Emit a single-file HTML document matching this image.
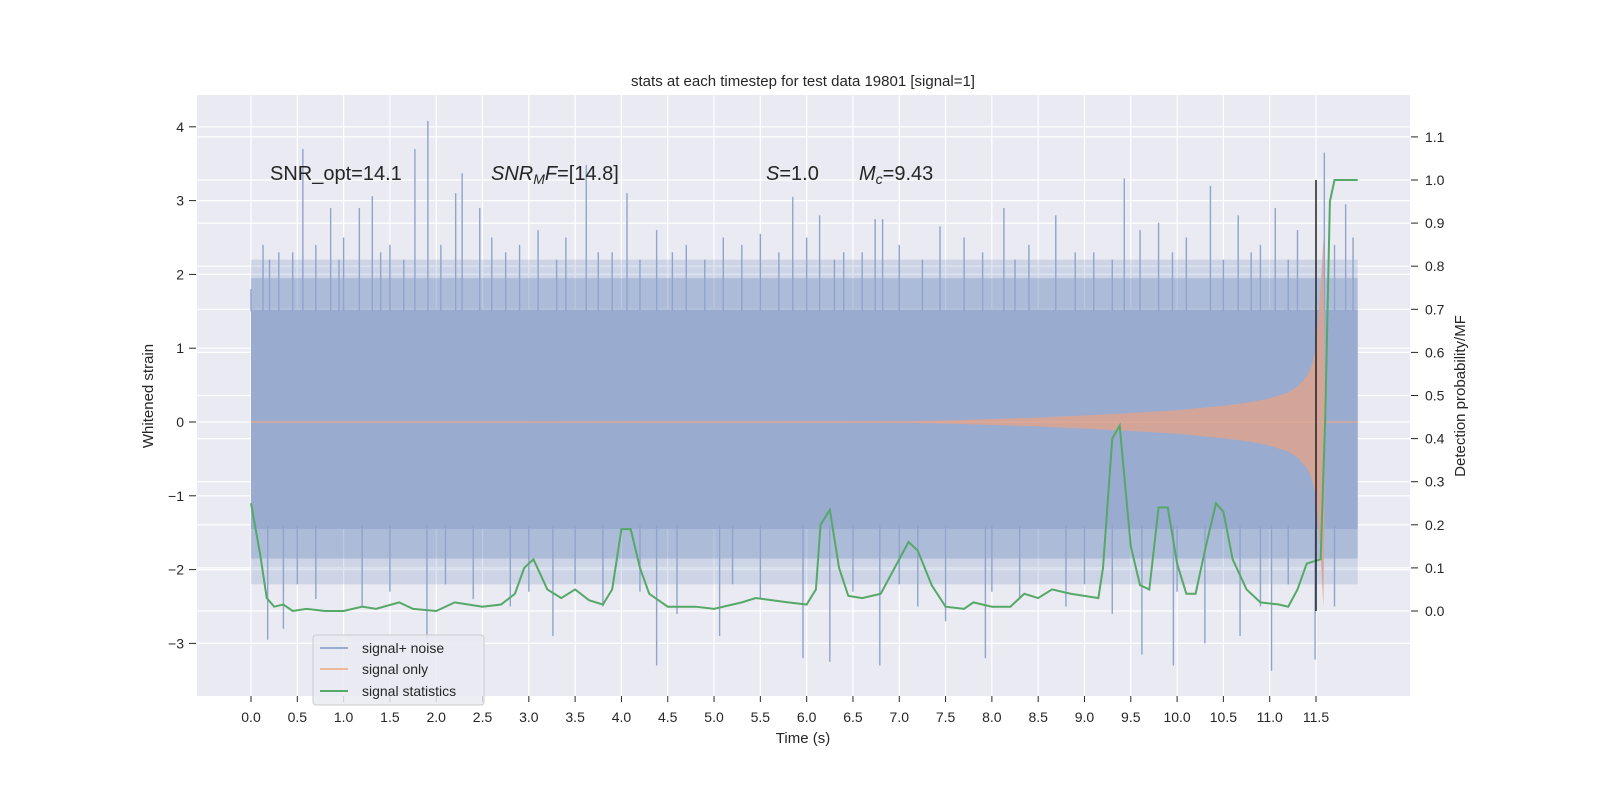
<!DOCTYPE html>
<html><head><meta charset="utf-8">
<style>
html,body{margin:0;padding:0;background:#fff;}
svg{display:block;font-family:"Liberation Sans","DejaVu Sans",sans-serif;}
</style></head>
<body>
<svg id="chart" width="1600" height="800" xmlns="http://www.w3.org/2000/svg">
<rect x="0" y="0" width="1600" height="800" fill="#ffffff"/>
<rect x="197" y="95" width="1213" height="601" fill="#eaeaf2"/>
<g id="grid"></g>
<g id="noise"></g>
<g id="signal"></g>
<g id="stats"></g>
<g id="axes"></g>
<text x="803" y="86" font-size="15" text-anchor="middle" fill="#262626">stats at each timestep for test data 19801 [signal=1]</text>
<text x="803" y="743" font-size="15" text-anchor="middle" fill="#262626">Time (s)</text>
<text transform="translate(153,396) rotate(-90)" font-size="15" text-anchor="middle" fill="#262626">Whitened strain</text>
<text transform="translate(1465,396) rotate(-90)" font-size="15" text-anchor="middle" fill="#262626">Detection probability/MF</text>
<text x="270" y="180" font-size="20" fill="#262626">SNR_opt=14.1</text>
<text x="491" y="180" font-size="20" fill="#262626"><tspan font-style="italic">SNR</tspan><tspan font-style="italic" font-size="14" dy="4">M</tspan><tspan font-style="italic" dy="-4">F</tspan>=[14.8]</text>
<text x="766" y="180" font-size="20" fill="#262626"><tspan font-style="italic">S</tspan>=1.0</text>
<text x="859" y="180" font-size="20" fill="#262626"><tspan font-style="italic">M</tspan><tspan font-style="italic" font-size="14" dy="4">c</tspan><tspan dy="-4">=9.43</tspan></text>
<g>
<rect x="313" y="635" width="171" height="70" rx="3" fill="#eaeaf2" fill-opacity="0.85" stroke="#cccccc"/>
<line x1="320" y1="648" x2="348" y2="648" stroke="#9aabd0" stroke-width="2"/>
<text x="362" y="653" font-size="14" fill="#262626">signal+ noise</text>
<line x1="320" y1="669" x2="348" y2="669" stroke="#eab89f" stroke-width="2"/>
<text x="362" y="674" font-size="14" fill="#262626">signal only</text>
<line x1="320" y1="691" x2="348" y2="691" stroke="#55a868" stroke-width="2"/>
<text x="362" y="696" font-size="14" fill="#262626">signal statistics</text>
</g>
</svg>
<script>
const upTimes=[0.0,0.13,0.56,0.86,1.17,1.31,1.77,1.91,2.21,2.28,2.47,3.62,4.06,4.38,5.5,5.85,6.14,6.74,6.82,7.44,8.13,8.69,9.43,9.8,10.36,10.66,11.06,11.59,11.82,0.3,0.7,1.0,1.5,2.6,2.9,3.1,3.4,3.9,4.7,5.1,5.3,6.0,6.4,7.0,7.7,8.4,9.1,9.6,10.1,10.9,11.3,11.9,0.2,0.45,0.95,1.4,1.65,2.05,2.75,3.3,3.75,4.2,4.55,4.9,5.7,6.3,6.6,7.25,7.9,8.25,8.9,9.3,9.95,10.5,10.8,11.2,11.7];
const upVals=[1.8,2.4,3.7,2.9,2.9,3.06,3.7,4.08,3.1,3.37,2.9,3.48,3.1,2.6,2.55,3.05,2.8,2.75,2.75,2.65,2.9,2.8,3.3,2.7,3.2,2.8,2.9,3.65,2.95,2.3,2.4,2.5,2.4,2.5,2.4,2.6,2.5,2.3,2.4,2.5,2.4,2.5,2.3,2.4,2.5,2.4,2.3,2.6,2.5,2.4,2.6,2.5,2.2,2.3,2.2,2.3,2.2,2.4,2.3,2.2,2.3,2.2,2.3,2.2,2.3,2.2,2.3,2.2,2.3,2.2,2.3,2.2,2.3,2.2,2.3,2.2,2.4];
const lowTimes=[0.18,0.35,1.9,3.26,4.38,5.06,5.96,6.25,6.79,7.5,7.93,9.62,9.96,10.3,10.68,11.02,11.49,0.7,1.2,2.4,2.8,3.8,4.6,5.5,7.2,8.3,8.8,9.3,10.9,11.7,0.5,1.5,2.1,3.0,3.5,4.2,5.2,6.5,7.0,8.0,9.0,10.0,11.2];
const lowVals=[-2.95,-2.8,-2.95,-2.9,-3.3,-2.9,-3.2,-3.25,-3.3,-2.7,-3.2,-3.15,-3.3,-3.0,-2.9,-3.37,-3.22,-2.4,-2.5,-2.4,-2.5,-2.5,-2.6,-2.4,-2.5,-2.4,-2.5,-2.6,-2.5,-2.5,-2.2,-2.3,-2.2,-2.3,-2.2,-2.3,-2.2,-2.3,-2.2,-2.3,-2.2,-2.3,-2.2];
const sigTimes=[0,7.0,7.5,8.0,8.5,9.0,9.5,10.0,10.5,10.8,11.0,11.2,11.3,11.4,11.45,11.5,11.55,11.58,11.6];
const sigAmp=[0.005,0.01,0.02,0.04,0.06,0.09,0.12,0.16,0.22,0.27,0.32,0.4,0.48,0.62,0.75,1.0,1.8,2.5,0.05];
const statTimes=[0,0.1,0.17,0.25,0.35,0.45,0.6,0.8,1.0,1.2,1.35,1.6,1.75,2.0,2.2,2.5,2.7,2.85,2.95,3.05,3.2,3.35,3.5,3.65,3.8,3.9,4.0,4.1,4.2,4.3,4.5,4.8,5.0,5.3,5.45,5.8,6.0,6.1,6.15,6.25,6.35,6.45,6.6,6.8,7.0,7.1,7.2,7.35,7.5,7.7,7.8,8.0,8.2,8.35,8.5,8.65,8.85,9.0,9.15,9.2,9.3,9.38,9.5,9.6,9.7,9.8,9.9,10.0,10.1,10.2,10.3,10.42,10.5,10.6,10.75,10.9,11.1,11.2,11.3,11.4,11.55,11.6,11.65,11.7,11.95];
const statVals=[0.25,0.13,0.03,0.01,0.015,0.0,0.005,0.0,0.0,0.01,0.005,0.02,0.005,0.0,0.02,0.01,0.015,0.04,0.1,0.12,0.05,0.03,0.05,0.025,0.015,0.05,0.19,0.19,0.1,0.04,0.01,0.01,0.005,0.02,0.03,0.02,0.015,0.05,0.2,0.235,0.1,0.035,0.03,0.04,0.12,0.16,0.14,0.06,0.01,0.005,0.02,0.01,0.01,0.04,0.03,0.05,0.04,0.035,0.03,0.1,0.4,0.43,0.15,0.06,0.05,0.24,0.24,0.11,0.04,0.04,0.14,0.25,0.23,0.12,0.05,0.02,0.015,0.01,0.05,0.11,0.12,0.45,0.95,1.0,1.0];
const xTicks=[0,0.5,1,1.5,2,2.5,3,3.5,4,4.5,5,5.5,6,6.5,7,7.5,8,8.5,9,9.5,10,10.5,11,11.5];
const yTicks=[-3,-2,-1,0,1,2,3,4];
const y2Ticks=[0,0.1,0.2,0.3,0.4,0.5,0.6,0.7,0.8,0.9,1.0,1.1];

const NS="http://www.w3.org/2000/svg";
const X=t=>251+t*(1316-251)/11.5;
const Y=v=>422-v*73.8;
const Y2=p=>611-p*431;
function mk(tag,attrs,parent){const e=document.createElementNS(NS,tag);for(const k in attrs)e.setAttribute(k,attrs[k]);document.getElementById(parent).appendChild(e);return e;}
for(const t of xTicks){const e=mk('line',{x1:X(t),x2:X(t),y1:95,y2:696,stroke:'#fff','stroke-width':1.2},'grid');

}
for(const v of yTicks){const e=mk('line',{x1:197,x2:1410,y1:Y(v),y2:Y(v),stroke:'#fff','stroke-width':1.2},'grid');

}
for(const p of y2Ticks){const e=mk('line',{x1:197,x2:1410,y1:Y2(p),y2:Y2(p),stroke:'#fff','stroke-width':1.2},'grid');

}
const tEnd=11.95;
let b=mk('rect',{x:X(0),y:Y(2.2),width:X(tEnd)-X(0),height:Y(-2.2)-Y(2.2),fill:'#4c72b0','fill-opacity':0.18},'noise');


b=mk('rect',{x:X(0),y:Y(1.95),width:X(tEnd)-X(0),height:Y(-1.85)-Y(1.95),fill:'#4c72b0','fill-opacity':0.25},'noise');


b=mk('rect',{x:X(0),y:Y(1.52),width:X(tEnd)-X(0),height:Y(-1.45)-Y(1.52),fill:'#9aabd0'},'noise');


upTimes.forEach((t,i)=>{const e=mk('line',{x1:X(t),x2:X(t),y1:Y(1.5),y2:Y(upVals[i]),stroke:'#90a3cb','stroke-width':1.4},'noise');

});
lowTimes.forEach((t,i)=>{const e=mk('line',{x1:X(t),x2:X(t),y1:Y(-1.4),y2:Y(lowVals[i]),stroke:'#90a3cb','stroke-width':1.4},'noise');

});
let pts=sigTimes.map((t,i)=>X(t)+','+Y(sigAmp[i]));
pts=pts.concat(sigTimes.slice().reverse().map((t,j)=>X(t)+','+Y(-sigAmp[sigTimes.length-1-j])));
let s=mk('polygon',{points:pts.join(' '),fill:'#d9a492','fill-opacity':0.9},'signal');


s=mk('line',{x1:X(0),x2:X(tEnd),y1:Y(0),y2:Y(0),stroke:'#dca898','stroke-width':1.5},'signal');


const sp=statTimes.map((t,i)=>X(t)+','+Y2(statVals[i])).join(' ');
let g=mk('polyline',{points:sp,fill:'none',stroke:'#55a868','stroke-width':2},'stats');


g=mk('line',{x1:X(11.5),x2:X(11.5),y1:Y2(1.0),y2:Y2(0),stroke:'#222','stroke-width':1.5},'stats');


for(const t of xTicks){const e=mk('text',{x:X(t),y:722,'font-size':14,'text-anchor':'middle',fill:'#262626'},'axes');e.textContent=t.toFixed(1);


mk('line',{x1:X(t),x2:X(t),y1:696,y2:702,stroke:'#262626'},'axes');}
for(const v of yTicks){const e=mk('text',{x:184,y:Y(v)+5,'font-size':14,'text-anchor':'end',fill:'#262626'},'axes');e.textContent=v<0?'\u2212'+(-v):String(v);


mk('line',{x1:189,x2:196,y1:Y(v),y2:Y(v),stroke:'#262626'},'axes');}
for(const p of y2Ticks){const e=mk('text',{x:1425,y:Y2(p)+5,'font-size':14,fill:'#262626'},'axes');e.textContent=p.toFixed(1);


mk('line',{x1:1411,x2:1418,y1:Y2(p),y2:Y2(p),stroke:'#262626'},'axes');}
</script>
</body></html>
